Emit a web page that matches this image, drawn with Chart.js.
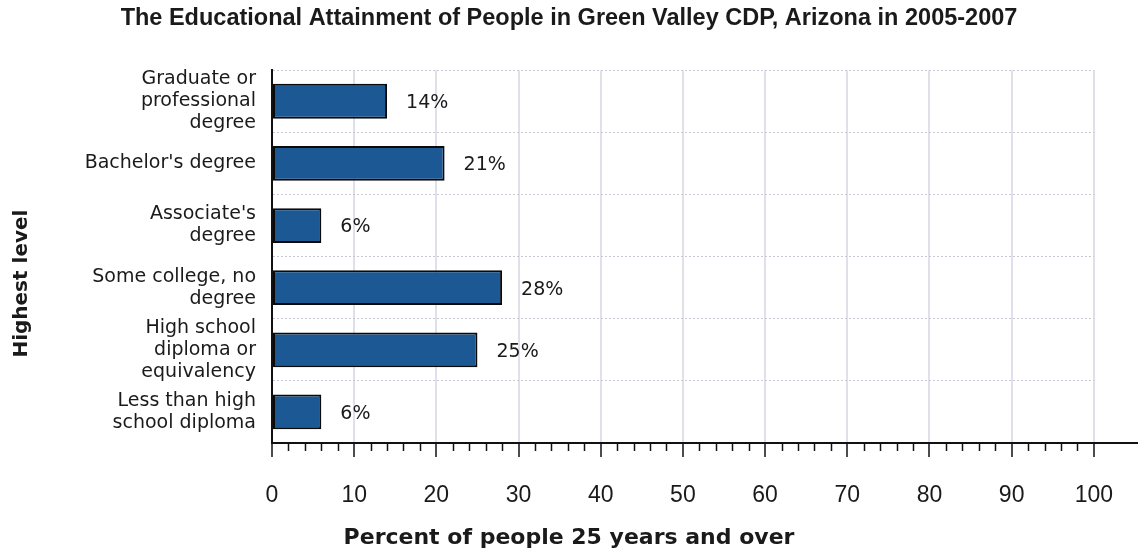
<!DOCTYPE html>
<html>
<head>
<meta charset="utf-8">
<script src="https://cdn.jsdelivr.net/npm/chart.js@4.4.1/dist/chart.umd.min.js"></script>
<style>
  html, body { margin: 0; padding: 0; background: #ffffff; }
  #wrap { position: relative; width: 1138px; height: 552px; }
</style>
</head>
<body>
<div id="wrap"><canvas id="c" width="1138" height="552"></canvas></div>
<script>
const chartTitle = "The Educational Attainment of People in Green Valley CDP, Arizona in 2005-2007";
const categories = [
  ["Graduate or", "professional", "degree"],
  ["Bachelor's degree"],
  ["Associate's", "degree"],
  ["Some college, no", "degree"],
  ["High school", "diploma or", "equivalency"],
  ["Less than high", "school diploma"]
];
const percentValues = [14, 21, 6, 28, 25, 6];
const xTickMin = 0;
const xTickMax = 100;
const xTickStep = 10;
const xMinorStep = 2;
const xAxisTitle = "Percent of people 25 years and over";
const yAxisTitle = "Highest level";

const TEXT = '#1a1a1a';
const SANS = '"Liberation Sans", Arial, sans-serif';
const WIDE = '"DejaVu Sans", Verdana, sans-serif';

const valueLabels = {
  id: 'valueLabels',
  afterDatasetsDraw(chart) {
    const ctx = chart.ctx;
    const meta = chart.getDatasetMeta(0);
    ctx.save();
    ctx.font = '19px ' + WIDE;
    ctx.fillStyle = TEXT;
    ctx.textAlign = 'left';
    ctx.textBaseline = 'middle';
    meta.data.forEach((bar, i) => {
      ctx.fillText(percentValues[i] + '%', bar.x + 19, bar.y + 2);
    });
    ctx.restore();
  }
};

const axisExtras = {
  id: 'axisExtras',
  afterDraw(chart) {
    const ctx = chart.ctx;
    const xs = chart.scales.x;
    const area = chart.chartArea;
    ctx.save();
    ctx.strokeStyle = '#111111';
    ctx.lineWidth = 2;
    ctx.beginPath();
    ctx.moveTo(area.right, area.bottom);
    ctx.lineTo(chart.width, area.bottom);
    ctx.stroke();
    ctx.lineWidth = 1.5;
    for (let v = xTickMin; v <= xTickMax; v += xMinorStep) {
      if (v % xTickStep === 0) continue;
      const px = Math.round(xs.getPixelForValue(v)) + 0.5;
      ctx.beginPath();
      ctx.moveTo(px, area.bottom);
      ctx.lineTo(px, area.bottom + 8);
      ctx.stroke();
    }
    // axis titles (centred on the figure, as in the original)
    ctx.fillStyle = TEXT;
    ctx.textAlign = 'center';
    ctx.textBaseline = 'middle';
    ctx.font = 'bold 22px ' + WIDE;
    ctx.fillText(xAxisTitle, chart.width / 2, chart.height - 14);
    ctx.font = 'bold 20px ' + WIDE;
    ctx.translate(22, (area.top + area.bottom) / 2 + 27);
    ctx.rotate(-Math.PI / 2);
    ctx.fillText(yAxisTitle, 0, 0);
    ctx.restore();
  }
};

new Chart(document.getElementById('c'), {
  type: 'bar',
  data: {
    labels: categories,
    datasets: [{
      data: percentValues,
      backgroundColor: '#1b5894',
      borderColor: '#0a0a0a',
      borderWidth: 2,
      borderSkipped: false,
      barPercentage: 0.56,
      categoryPercentage: 1.0
    }]
  },
  options: {
    indexAxis: 'y',
    responsive: true,
    maintainAspectRatio: false,
    devicePixelRatio: 1,
    animation: false,
    layout: { padding: 0 },
    plugins: {
      legend: { display: false },
      tooltip: { enabled: false },
      title: {
        display: true,
        text: chartTitle,
        color: TEXT,
        font: { family: SANS, size: 23.5, weight: 'bold' },
        padding: { top: 4, bottom: 38 }
      }
    },
    scales: {
      x: {
        type: 'linear',
        min: xTickMin,
        max: xTickMax,
        ticks: {
          stepSize: xTickStep,
          color: TEXT,
          font: { family: SANS, size: 23 },
          padding: 25,
          maxRotation: 0
        },
        grid: {
          color: '#e0e0ea',
          lineWidth: 2,
          drawTicks: true,
          tickLength: 14,
          tickColor: '#111111',
          tickWidth: 1.5
        },
        border: { display: true, color: '#111111', width: 2 },
        title: { display: false, text: xAxisTitle },
        afterFit(scale) { scale.height = 109; }
      },
      y: {
        type: 'category',
        ticks: {
          color: TEXT,
          font: { family: WIDE, size: 19, lineHeight: 1.16 },
          padding: 16,
          crossAlign: 'near',
          autoSkip: false
        },
        grid: {
          color: '#c8c8d4',
          lineWidth: 1,
          drawTicks: false,
          offset: true
        },
        border: { display: true, color: '#111111', width: 2, dash: [2, 2] },
        title: { display: false, text: yAxisTitle },
        afterFit(scale) { scale.width = 272; }
      },
      yRight: {
        type: 'category',
        position: 'right',
        display: true,
        grid: { display: false, drawTicks: false },
        ticks: { display: false },
        border: { display: false },
        afterFit(scale) { scale.width = 42; }
      }
    }
  },
  plugins: [valueLabels, axisExtras]
});
</script>
</body>
</html>
